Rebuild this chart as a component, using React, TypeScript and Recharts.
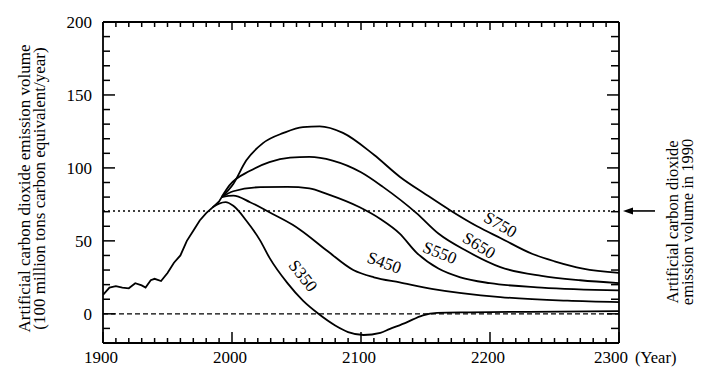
import React from 'react';
import { LineChart, Line, XAxis, YAxis, ReferenceLine, ReferenceDot } from 'recharts';

const xTicks = [1900,1910,1920,1930,1940,1950,1960,1970,1980,1990,2000,2010,2020,2030,2040,2050,2060,2070,2080,2090,2100,2110,2120,2130,2140,2150,2160,2170,2180,2190,2200,2210,2220,2230,2240,2250,2260,2270,2280,2290,2300];
const xLabelTicks = [1900, 2000, 2100, 2200, 2300];
const yTicks = [-10,0,10,20,30,40,50,60,70,80,90,100,110,120,130,140,150,160,170,180,190,200];
const yLabelTicks = [0, 50, 100, 150, 200];

const historicalYears = [1900,1905,1910,1915,1920,1925,1930,1933,1937,1940,1945,1950,1955,1960,1965,1970,1975,1980,1985,1990,1992];
const historicalValues = [13,18,19,18,17.5,21,19.5,18,23,24,22.5,28,35,40,50,57,64,69,73,77,80];

const s350Years = [1985,1990,1995,2001,2011,2022,2029,2043,2055,2067,2080,2090,2102,2115,2122,2135,2148,2159,2184,2230,2300];
const s350Values = [73,75.5,76.5,74,64,50,38.5,21,9,0,-8,-12.5,-14.5,-13,-10.5,-6,-1,0.6,1,1.4,1.8];

const s450Years = [1992,2001,2014,2029,2047,2053,2074,2094,2110,2130,2156,2208,2260,2300];
const s450Values = [80,81,76.5,69.6,61,57.5,43,30,25,21.5,17,11.5,9,8];

const s550Years = [1992,2001,2022,2043,2060,2074,2099,2115,2130,2143,2160,2177,2200,2240,2300];
const s550Values = [80,84,86.8,87,86,82,73,65,55,42,31,25,21,18,16];

const s650Years = [1992,1998,2014,2029,2045,2060,2078,2100,2117,2143,2160,2182,2208,2240,2270,2300];
const s650Values = [80,88,98,104,107,107.5,105,97,87,69,55,43,32,26,23,21];

const s750Years = [1992,2001,2011,2024,2040,2055,2068,2086,2110,2130,2150,2169,2190,2208,2233,2250,2272,2300];
const s750Values = [80,89,105,117,124,128,128.5,124,109,94,82,71,60,52,41,36,31,28];

const level1990 = 70.5;
const xMin = 1900, xMax = 2300, yMin = -20, yMax = 200;

const curveLabelNames = ['S350', 'S450', 'S550', 'S650', 'S750'];
const curveLabelYears = [2055, 2118, 2161, 2191.5, 2208];
const curveLabelValues = [26, 35, 41.8, 46.8, 61];
const curveLabelAngles = [52, 20, 22, 32, 30];

const FONT = '"Liberation Serif", "DejaVu Serif", serif';

const toData = (years: number[], values: number[]) => years.map((year, i) => ({ year, value: values[i] }));

const series = [
  { key: 'hist', data: toData(historicalYears, historicalValues), type: 'linear' },
  { key: 's350', data: toData(s350Years, s350Values), type: 'monotone' },
  { key: 's450', data: toData(s450Years, s450Values), type: 'monotone' },
  { key: 's550', data: toData(s550Years, s550Values), type: 'monotone' },
  { key: 's650', data: toData(s650Years, s650Values), type: 'monotone' },
  { key: 's750', data: toData(s750Years, s750Values), type: 'monotone' },
];

const BottomLabel = (props: any) => {
  const { x, y, payload } = props;
  const v = payload.value;
  if (v === 2300) {
    return (
      <g>
        <text x={x + 9} y={y} dy={17} textAnchor="end" fontSize={17} fontFamily={FONT} fill="#000">{v}</text>
        <text x={x + 16} y={y} dy={17} textAnchor="start" fontSize={16.5} fontFamily={FONT} fill="#000">(Year)</text>
      </g>
    );
  }
  return <text x={x - 2} y={y} dy={17} textAnchor="middle" fontSize={17} fontFamily={FONT} fill="#000">{v}</text>;
};

const LeftLabel = (props: any) => {
  const { x, y, payload } = props;
  return <text x={x} y={y} dy="0.35em" textAnchor="end" fontSize={17} fontFamily={FONT} fill="#000">{payload.value}</text>;
};

const YTitle = (props: any) => {
  const vb = props.viewBox || {};
  const cy = (vb.y || 0) + (vb.height || 0) / 2 + 6;
  return (
    <g fontFamily={FONT} fontSize={17} fill="#000">
      <text transform={`translate(16,${cy}) rotate(-90)`} textAnchor="middle" dominantBaseline="central">Artificial carbon dioxide emission volume</text>
      <text transform={`translate(31,${cy}) rotate(-90)`} textAnchor="middle" dominantBaseline="central">(100 million tons carbon equivalent/year)</text>
    </g>
  );
};

const ArrowNote = (props: any) => {
  const { cx, cy } = props;
  const ty = cy + 11;
  return (
    <g>
      <line x1={cx + 10} x2={cx + 36} y1={cy} y2={cy} stroke="#000" strokeWidth={1.6} />
      <polygon points={`${cx + 4},${cy} ${cx + 14},${cy - 3.5} ${cx + 14},${cy + 3.5}`} fill="#000" />
      <g fontFamily={FONT} fontSize={16.5} fill="#000">
        <text transform={`translate(${cx + 53},${ty}) rotate(-90)`} textAnchor="middle" dominantBaseline="central">Artificial carbon dioxide</text>
        <text transform={`translate(${cx + 68},${ty}) rotate(-90)`} textAnchor="middle" dominantBaseline="central">emission volume in 1990</text>
      </g>
    </g>
  );
};

const makeCurveLabel = (name: string, angle: number) => (props: any) => {
  const { cx, cy } = props;
  return (
    <text transform={`translate(${cx},${cy}) rotate(${angle})`} textAnchor="middle" dominantBaseline="central" fontFamily={FONT} fontSize={17} fill="#000">{name}</text>
  );
};

const XTickShape = (props: any) => {
  const { x1, y1, y2, major } = props;
  const bottom = Math.max(y1, y2);
  const top = Math.min(y1, y2);
  return (
    <g>
      <line x1={x1} x2={x1} y1={bottom} y2={bottom - (major ? 11 : 5)} stroke="#000" strokeWidth={1.5} />
      <line x1={x1} x2={x1} y1={top} y2={top + (major ? 8 : 5)} stroke="#000" strokeWidth={1.5} />
    </g>
  );
};

const YTickShape = (props: any) => {
  const { x1, x2, y1, major } = props;
  const left = Math.min(x1, x2);
  const right = Math.max(x1, x2);
  return (
    <g>
      <line x1={left} x2={left + (major ? 12 : 7)} y1={y1} y2={y1} stroke="#000" strokeWidth={1.5} />
      <line x1={right} x2={right - (major ? 12 : 8)} y1={y1} y2={y1} stroke="#000" strokeWidth={1.5} />
    </g>
  );
};

export default function App() {
  return (
    <LineChart width={701} height={374} margin={{ top: 14, right: 90, bottom: 0, left: 0 }}>
      <XAxis xAxisId="b" type="number" dataKey="year" domain={[xMin, xMax]} allowDataOverflow ticks={xLabelTicks} interval={0}
        tickSize={0} tickMargin={3} tickLine={false} height={39} axisLine={false} tick={<BottomLabel />} />
      <YAxis yAxisId="l" type="number" domain={[yMin, yMax]} allowDataOverflow ticks={yLabelTicks} interval={0}
        tickSize={0} tickMargin={11} tickLine={false} width={95} axisLine={false} tick={<LeftLabel />}
        label={<YTitle />} />
      {xTicks.map((t) => (
        <ReferenceLine key={`xt${t}`} xAxisId="b" yAxisId="l" x={t} ifOverflow="visible" shape={<XTickShape major={xLabelTicks.includes(t)} />} />
      ))}
      {yTicks.map((t) => (
        <ReferenceLine key={`yt${t}`} xAxisId="b" yAxisId="l" y={t} ifOverflow="visible" shape={<YTickShape major={yLabelTicks.includes(t)} />} />
      ))}
      <ReferenceLine xAxisId="b" yAxisId="l" x={xMin} ifOverflow="visible" stroke="#000" strokeWidth={1.8} />
      <ReferenceLine xAxisId="b" yAxisId="l" x={xMax} ifOverflow="visible" stroke="#000" strokeWidth={1.8} />
      <ReferenceLine xAxisId="b" yAxisId="l" y={yMax} ifOverflow="visible" stroke="#000" strokeWidth={1.8} />
      <ReferenceLine xAxisId="b" yAxisId="l" y={yMin} ifOverflow="visible" stroke="#000" strokeWidth={1.8} />
      <ReferenceLine xAxisId="b" yAxisId="l" y={level1990} stroke="#000" strokeWidth={1.5} strokeDasharray="2 3" />
      <ReferenceLine xAxisId="b" yAxisId="l" y={0} stroke="#000" strokeWidth={1.3} strokeDasharray="5 3" />
      {series.map((s) => (
        <Line key={s.key} xAxisId="b" yAxisId="l" data={s.data} dataKey="value" type={s.type as any}
          stroke="#000" strokeWidth={1.8} dot={false} activeDot={false} isAnimationActive={false} />
      ))}
      {curveLabelNames.map((name, i) => (
        <ReferenceDot key={name} xAxisId="b" yAxisId="l" x={curveLabelYears[i]} y={curveLabelValues[i]} r={0}
          ifOverflow="visible" shape={makeCurveLabel(name, curveLabelAngles[i])} />
      ))}
      <ReferenceDot xAxisId="b" yAxisId="l" x={xMax} y={level1990} r={0} ifOverflow="visible" shape={ArrowNote} />
    </LineChart>
  );
}
